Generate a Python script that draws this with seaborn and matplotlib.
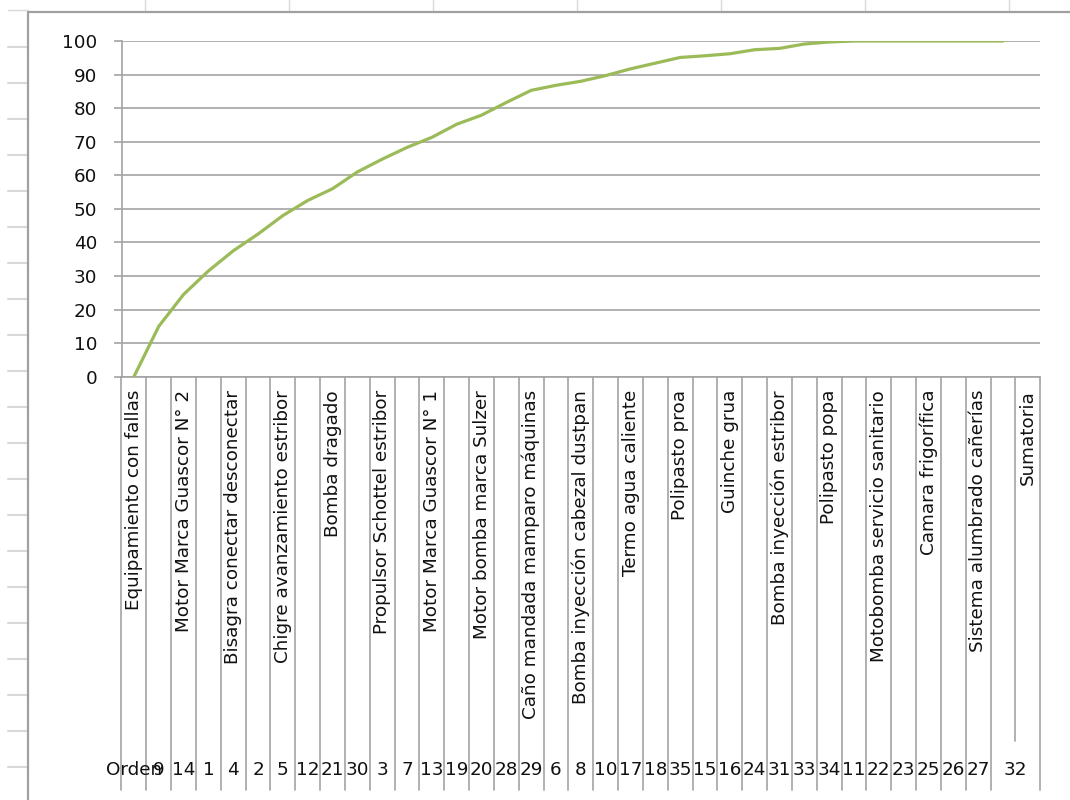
import numpy as np
import matplotlib
matplotlib.use("Agg")
import matplotlib.pyplot as plt
import matplotlib.transforms as mtransforms
from matplotlib.lines import Line2D
import seaborn as sns

# inner level of the category axis (Excel only shows every other name)
equipos = [
    "Equipamiento con fallas", "", "Motor Marca Guascor N° 2", "",
    "Bisagra conectar desconectar", "", "Chigre avanzamiento estribor", "",
    "Bomba dragado", "", "Propulsor Schottel estribor", "",
    "Motor Marca Guascor N° 1", "", "Motor bomba marca Sulzer", "",
    "Caño mandada mamparo máquinas", "", "Bomba inyección cabezal dustpan", "",
    "Termo agua caliente", "", "Polipasto proa", "", "Guinche grua", "",
    "Bomba inyección estribor", "", "Polipasto popa", "",
    "Motobomba servicio sanitario", "", "Camara frigorífica", "",
    "Sistema alumbrado cañerías", "", "Sumatoria",
]
# outer level (orden) and how many inner categories each one covers
orden = ["Orden", "9", "14", "1", "4", "2", "5", "12", "21", "30", "3", "7",
         "13", "19", "20", "28", "29", "6", "8", "10", "17", "18", "35", "15",
         "16", "24", "31", "33", "34", "11", "22", "23", "25", "26", "27", "32"]
orden_span = [1] * 35 + [2]

# cumulative percentage (one value per category, Sumatoria has none)
acumulado = [0, 15, 24.5, 31.5, 37.5, 42.5, 48, 52.5, 56, 61, 64.8, 68.3,
             71.3, 75.2, 77.9, 81.7, 85.3, 86.8, 88, 89.7, 91.7, 93.4, 95.1,
             95.6, 96.2, 97.4, 97.8, 99.1, 99.7, 100, 100, 100, 100, 100,
             100, 100]
y_ticks = list(range(0, 101, 10))

W, H = 1070, 800
sns.set_theme(style="white")
plt.rcParams["font.family"] = ["DejaVu Sans"]

grid_c = "#a3a3a3"
light_c = "#d9d9d9"
text_c = "#111111"
fs = 13.2

fig = plt.figure(figsize=(W / 100, H / 100), dpi=100)
fig.patch.set_facecolor("white")

# axes placed in pixel terms of the screenshot
x0, x1, y_top, y_bot = 121.5, 1040.2, 41, 376.7
ax = fig.add_axes([x0 / W, 1 - y_bot / H, (x1 - x0) / W, (y_bot - y_top) / H])
ax.set_facecolor("white")

x = np.arange(len(acumulado))
sns.lineplot(x=x, y=acumulado, ax=ax, color="#9BBB59", linewidth=2.3,
             solid_joinstyle="round", solid_capstyle="round", zorder=5)

ax.set_xlim(-0.5, len(equipos) - 0.5)
ax.set_ylim(0, 100)
ax.set_yticks(y_ticks)
ax.set_yticklabels([str(v) for v in y_ticks], fontsize=fs, color=text_c)
ax.yaxis.grid(True, color=grid_c, linewidth=1.2)
ax.xaxis.grid(False)
for side in ["top", "right"]:
    ax.spines[side].set_visible(False)
for side in ["left", "bottom"]:
    ax.spines[side].set_color(grid_c)
    ax.spines[side].set_linewidth(1.2)
ax.tick_params(axis="y", length=5.8, width=1.2, color=grid_c, pad=11.5,
               left=True)

ax.set_xticks(x.tolist() + [len(equipos) - 1])
ax.set_xticklabels(equipos, rotation=90, va="top", ha="center",
                   fontsize=fs, color=text_c)
ax.tick_params(axis="x", length=0, pad=9.5)
ax.set_xlabel("")
ax.set_ylabel("")

# category dividers running down through both label rows
px_h = y_bot - y_top
full_low = -(790 - y_bot) / px_h
short_low = -(741 - y_bot) / px_h
edges = np.cumsum([0] + orden_span) - 0.5
for e in edges:
    ax.axvline(e, ymin=full_low, ymax=0, clip_on=False, color=grid_c, lw=1.2)
for start, span in zip(edges[:-1], orden_span):
    for k in range(1, span):
        ax.axvline(start + k, ymin=short_low, ymax=0, clip_on=False,
                   color=grid_c, lw=1.2)

# outer level labels (orden numbers)
trans = mtransforms.blended_transform_factory(ax.transData, fig.transFigure)
centers = edges[:-1] + np.array(orden_span) / 2
for c, lab in zip(centers, orden):
    ax.text(c, 1 - 770 / H, lab, transform=trans, ha="center", va="center",
            fontsize=fs, color=text_c)

# spreadsheet surroundings of the screenshot
def fig_line(xs, ys, color, lw):
    fig.add_artist(Line2D([v / W for v in xs], [1 - v / H for v in ys],
                          transform=fig.transFigure, color=color, lw=lw))

for cx in [145, 289, 433, 577, 721, 865, 1009]:
    fig_line([cx, cx], [0, 11], light_c, 1.0)
fig_line([8, 28], [10, 10], light_c, 1.0)
for ry in np.arange(46.7, H, 36):
    fig_line([8, 27], [ry, ry], light_c, 1.5)
fig_line([28, 28], [12, H], "#a0a0a0", 1.6)
fig_line([28, W], [12, 12], "#a0a0a0", 1.6)

fig.savefig("out.png", dpi=100, facecolor="white")
